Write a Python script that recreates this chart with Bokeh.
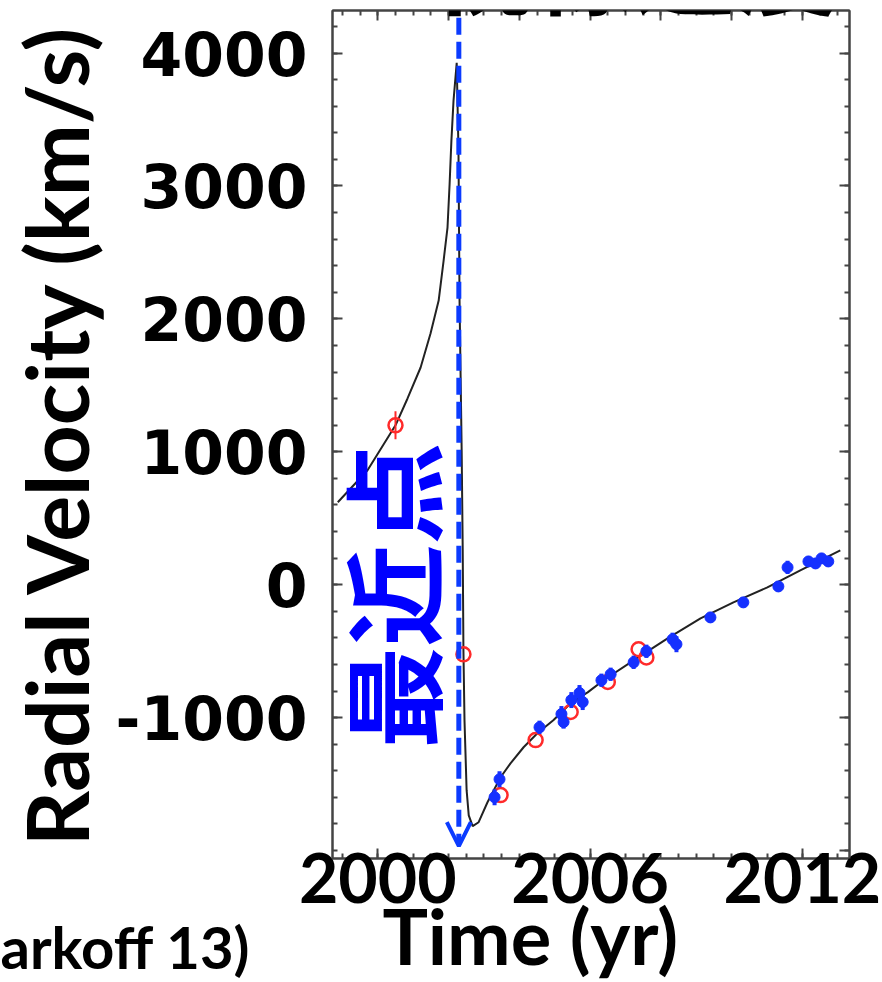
import math
from bokeh.plotting import figure
from bokeh.models import LinearAxis, FixedTicker, Range1d, Label, Arrow, OpenHead, Title
from bokeh.embed import file_html
from bokeh.resources import INLINE

# ---------------- data ----------------
# fitted orbit curve: time (yr) and radial velocity (km/s)
curve_year = [1998.87, 1999.71, 2000.50, 2000.84, 2001.21, 2001.49, 2001.72, 2001.86,
              2001.97, 2002.03, 2002.08, 2002.14, 2002.23,
              2002.28, 2002.31, 2002.37, 2002.40, 2002.42, 2002.45, 2002.51, 2002.57, 2002.68,
              2002.85, 2003.10, 2003.47, 2003.75, 2004.12, 2004.51, 2004.96, 2005.45,
              2005.93, 2006.38, 2007.23, 2008.19, 2009.12, 2010.05, 2011.01, 2011.94, 2013.07]
curve_rv = [620, 861, 1199, 1401, 1634, 1890, 2138, 2439,
            2687, 3018, 3341, 3642, 3927,
            3267, 2138, 1010, 258, -494, -1020, -1546, -1735, -1817,
            -1787, -1637, -1449, -1344, -1223, -1118, -1020, -892,
            -810, -719, -569, -404, -253, -133, -20, 108, 259]

# Keck measurements (red open circles)
keck_year = [2000.50, 2002.42, 2003.47, 2004.46, 2005.45, 2006.50, 2007.37, 2007.59]
keck_rv = [1199, -524, -1583, -1169, -958, -732, -486, -547]
keck_err = [105, 0, 0, 0, 0, 0, 0, 0]

# VLT measurements (blue filled points)
vlt_year = [2003.30, 2003.44, 2004.57, 2005.19, 2005.25, 2005.47, 2005.70, 2005.79,
            2006.32, 2006.58, 2007.23, 2007.59, 2008.33, 2008.44, 2009.40, 2010.33,
            2011.32, 2011.58, 2012.17, 2012.37, 2012.54, 2012.73]
vlt_rv = [-1599, -1464, -1073, -973, -1033, -868, -815, -883,
          -719, -674, -584, -501, -411, -448, -246, -133,
          -13, 130, 175, 160, 198, 175]
vlt_err = [60, 60, 50, 60, 50, 60, 60, 60,
           50, 50, 50, 50, 50, 60, 40, 40,
           40, 50, 40, 40, 40, 40]

periapsis_year = 2002.29

x_label_ticks = [2000, 2006, 2012]
x_major_ticks = [2000, 2002, 2004, 2006, 2008, 2010, 2012]
x_minor_ticks = [1999 + 0.5 * i for i in range(29)]
y_label_ticks = [-1000, 0, 1000, 2000, 3000, 4000]
y_major_ticks = [-2000, -1000, 0, 1000, 2000, 3000, 4000]
y_minor_ticks = [-2000 + 200 * i for i in range(32)]
y_tick_labels = {-1000: "-1000"}

X_MIN, X_MAX = 1998.72, 2013.33
Y_MIN, Y_MAX = -2060, 4320

# ---------------- styling ----------------
BLUE_LINE = "#0b3bff"
BLUE_TEXT = "#0000ff"
BLUE_DOT = "#1530ff"
RED = "#ff2a2a"
AXIS_GRAY = "#444444"

p = figure(width=882, height=982,
           x_range=Range1d(X_MIN, X_MAX), y_range=Range1d(Y_MIN, Y_MAX),
           output_backend="svg", toolbar_location=None,
           min_border_left=332, min_border_right=33, min_border_top=10, min_border_bottom=124,
           background_fill_color="white", border_fill_color="white")
p.xgrid.visible = False
p.ygrid.visible = False
p.outline_line_color = AXIS_GRAY
p.outline_line_width = 2


def style_ticks(ax):
    ax.major_tick_in = 10
    ax.major_tick_out = 0
    ax.minor_tick_in = 5
    ax.minor_tick_out = 0
    ax.axis_line_color = AXIS_GRAY
    ax.axis_line_width = 2
    ax.major_tick_line_color = AXIS_GRAY
    ax.major_tick_line_width = 2
    ax.minor_tick_line_color = AXIS_GRAY
    ax.minor_tick_line_width = 2


def hide_labels(ax):
    ax.major_label_text_font_size = "1px"
    ax.major_label_text_color = None
    ax.major_label_standoff = 0


# left axis
ly = p.yaxis[0]
ly.ticker = FixedTicker(ticks=y_label_ticks, minor_ticks=y_minor_ticks)
ly.major_label_overrides = y_tick_labels
style_ticks(ly)
ly.major_label_text_font = "DejaVu Sans"
ly.major_label_text_font_style = "bold"
ly.major_label_text_font_size = "60px"
ly.major_label_text_color = "black"
ly.major_label_standoff = 25
ly.axis_label = "Radial Velocity (km/s)"
ly.axis_label_text_font = "Lato"
ly.axis_label_text_font_style = "bold"
ly.axis_label_text_font_size = "86px"
ly.axis_label_text_color = "black"
ly.axis_label_standoff = 6

# bottom axis
bx = p.xaxis[0]
bx.ticker = FixedTicker(ticks=x_label_ticks, minor_ticks=x_minor_ticks)
style_ticks(bx)
bx.major_label_text_font = "Lato"
bx.major_label_text_font_style = "bold"
bx.major_label_text_font_size = "68px"
bx.major_label_text_color = "black"
bx.major_label_standoff = -6

# right and top axes: ticks only
ry = LinearAxis(ticker=FixedTicker(ticks=y_major_ticks, minor_ticks=y_minor_ticks))
style_ticks(ry)
hide_labels(ry)
p.add_layout(ry, "right")

tx = LinearAxis(ticker=FixedTicker(ticks=x_major_ticks, minor_ticks=x_minor_ticks))
style_ticks(tx)
hide_labels(tx)
p.add_layout(tx, "above")

# texts below the axis (side-panel titles, so they are not clipped by the frame)
time_title = Title(text="Time (yr)", align="left", offset=50, vertical_align="top",
                   standoff=-32, text_font="Lato", text_font_style="bold",
                   text_font_size="76px", text_color="black")
p.add_layout(time_title, "below")
ref_title = Title(text="arkoff 13)", align="left", offset=-332, vertical_align="top",
                  standoff=-109, text_font="Lato", text_font_style="bold",
                  text_font_size="58px", text_color="black")
p.add_layout(ref_title, "below")

# ---------------- data marks ----------------
p.line(curve_year, curve_rv, line_color="#222222", line_width=2)

keck_lo = [v - e for v, e in zip(keck_rv, keck_err)]
keck_hi = [v + e for v, e in zip(keck_rv, keck_err)]
p.segment(keck_year, keck_lo, keck_year, keck_hi, line_color=RED, line_width=2)
p.scatter(keck_year, keck_rv, marker="circle", size=14, fill_color=None,
          line_color=RED, line_width=2.5)

vlt_lo = [v - e for v, e in zip(vlt_rv, vlt_err)]
vlt_hi = [v + e for v, e in zip(vlt_rv, vlt_err)]
p.segment(vlt_year, vlt_lo, vlt_year, vlt_hi, line_color=BLUE_DOT, line_width=4)
p.scatter(vlt_year, vlt_rv, marker="circle", size=11, fill_color=BLUE_DOT,
          line_color=BLUE_DOT)

# ---------------- annotations ----------------
p.add_layout(Arrow(end=OpenHead(size=24, line_color=BLUE_LINE, line_width=4),
                   x_start=periapsis_year, y_start=Y_MAX - 55,
                   x_end=periapsis_year, y_end=Y_MIN + 93,
                   line_color=BLUE_LINE, line_width=5, line_dash="17 7"))

p.add_layout(Label(x=57, y=263, x_units="screen", y_units="screen", text="最近点",
                   angle=math.pi / 2, text_align="center", text_baseline="middle",
                   text_font="Noto Sans CJK JP", text_font_style="bold",
                   text_font_size="102px", text_color=BLUE_TEXT))

p.add_layout(Label(x=98, y=896, x_units="screen", y_units="screen", text="視線速度",
                   text_align="left", text_baseline="alphabetic",
                   text_font="Noto Sans CJK JP", text_font_style="bold",
                   text_font_size="102px", text_color="black"))

open("out.html", "w").write(file_html(p, INLINE))
